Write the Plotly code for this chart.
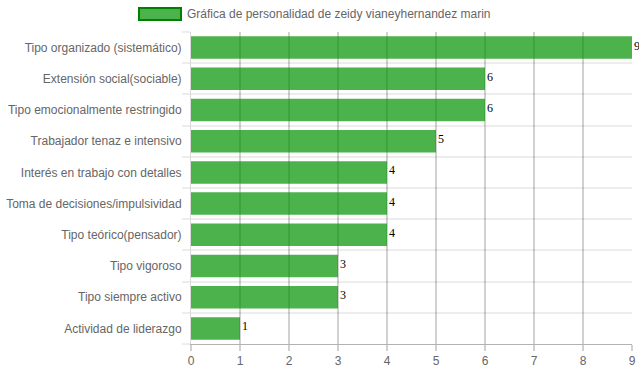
import plotly.graph_objects as go

categories = [
    "Tipo organizado (sistemático)",
    "Extensión social(sociable)",
    "Tipo emocionalmente restringido",
    "Trabajador tenaz e intensivo",
    "Interés en trabajo con detalles",
    "Toma de decisiones/impulsividad",
    "Tipo teórico(pensador)",
    "Tipo vigoroso",
    "Tipo siempre activo",
    "Actividad de liderazgo",
]
values = [9, 6, 6, 5, 4, 4, 4, 3, 3, 1]
series_name = "Gráfica de personalidad de zeidy vianeyhernandez marin"
x_ticks = list(range(0, 10))

fig = go.Figure()
fig.add_trace(go.Bar(
    y=categories, x=values, orientation="h",
    marker=dict(color="rgba(0,145,0,0.7)", line=dict(width=0)),
    width=0.72, showlegend=False, name=series_name,
))

for c, v in zip(categories, values):
    fig.add_annotation(x=v, y=c, text=str(v), showarrow=False,
                       xanchor="left", yanchor="middle", xshift=0, yshift=2,
                       font=dict(family="Liberation Serif, serif", size=12, color="#000"))

fig.update_layout(
    width=639, height=372,
    margin=dict(l=191, r=7, t=32, b=28, autoexpand=False),
    paper_bgcolor="white", plot_bgcolor="white",
    font=dict(family="Liberation Sans, Arial, sans-serif", size=12, color="#666"),
    xaxis=dict(range=[0, 9], tickvals=x_ticks, showgrid=True, automargin=False,
               gridcolor="rgba(0,0,0,0.18)", gridwidth=1.5,
               showline=True, linecolor="rgba(0,0,0,0.3)", zeroline=False,
               ticks="outside", ticklen=6, tickcolor="rgba(0,0,0,0.18)", tickwidth=1.5,
               ticklabeloverflow="allow",
               tickfont=dict(size=12, color="#666")),
    yaxis=dict(type="category", categoryorder="array", categoryarray=categories[::-1],
               tickson="boundaries", showgrid=True, gridcolor="rgba(0,0,0,0.07)", gridwidth=2,
               automargin=False, ticklabelstandoff=6,
               ticks="outside", ticklen=8, tickcolor="rgba(0,0,0,0.07)", tickwidth=2,
               showline=True, linecolor="rgba(0,0,0,0.15)",
               tickfont=dict(size=12, color="#666")),
)

# legend drawn manually (wide box like original)
fig.add_shape(type="rect", xref="paper", yref="paper",
              x0=(139 - 191) / 441, x1=(181 - 191) / 441,
              y0=(372 - 28 - 20) / 312, y1=(372 - 28 - 8) / 312,
              fillcolor="rgba(0,145,0,0.7)", line=dict(color="rgb(0,128,0)", width=2))
fig.add_annotation(xref="paper", yref="paper",
                   x=(185 - 191) / 441, y=(372 - 28 - 14) / 312,
                   text=series_name, showarrow=False, xanchor="left", yanchor="middle",
                   font=dict(size=12, color="#666"))

fig.write_html("out.html", config={"displayModeBar": False},
               post_script="document.body.style.margin='0';document.body.style.padding='0';")
